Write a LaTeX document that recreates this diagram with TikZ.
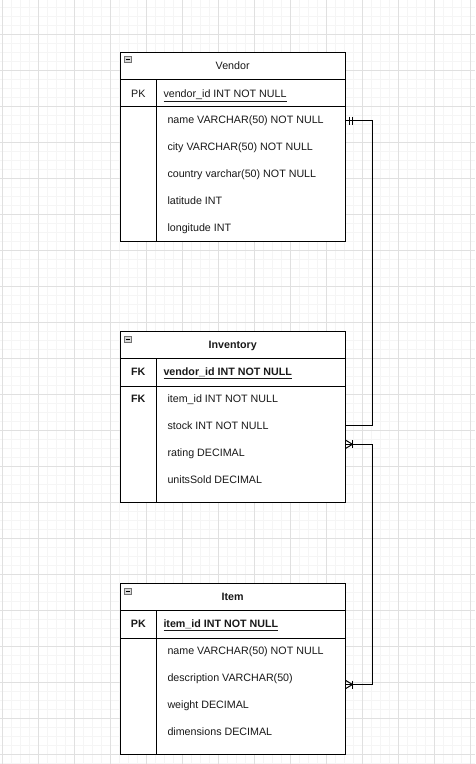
\documentclass[tikz,border=0pt]{standalone}
\usepackage{fontspec}
\setmainfont{Liberation Sans}
\begin{document}
\begin{tikzpicture}[x=1pt,y=-1pt,
  minorgrid/.style={draw=black!4, line width=0.8pt},
  majorgrid/.style={draw=black!12, line width=0.8pt},
  tbl/.style={draw=black, line width=1pt, fill=white, rectangle, inner sep=0pt, outer sep=0pt},
  sep/.style={draw=black, line width=1pt},
  conn/.style={draw=black, line width=1pt},
  txt/.style={font=\fontsize{10.7}{12}\selectfont, inner sep=0pt, anchor=base west, text=black!90, yshift=-3.9pt},
  ctxt/.style={font=\fontsize{10.7}{12}\selectfont, inner sep=0pt, anchor=base, text=black!90, yshift=-3.9pt},
  icon/.style={draw=black!55, fill=black!15, line width=0.7pt}
]
\useasboundingbox (0,0) rectangle (475,764);
\fill[white] (0,0) rectangle (475,764);
\begin{scope}
\clip (0,0) rectangle (475,764);
\foreach \i in {0,...,52} \draw[minorgrid] (2.3+9*\i,0) -- (2.3+9*\i,764);
\foreach \j in {1,...,85} \draw[minorgrid] (0,-1.7+9*\j) -- (475,-1.7+9*\j);
\foreach \i in {0,...,13} \draw[majorgrid] (2.3+36*\i,0) -- (2.3+36*\i,764);
\foreach \j in {1,...,21} \draw[majorgrid] (0,-1.7+36*\j) -- (475,-1.7+36*\j);
\end{scope}

% ---------- Vendor ----------
\node[tbl, minimum width=225.3pt, minimum height=188.7pt] (vendor) at (232.65,146.65) {};
\draw[sep] (120,79.3) -- (345.3,79.3);
\draw[sep] (120,106.7) -- (345.3,106.7);
\draw[sep] (156.3,79.3) -- (156.3,241);
\draw[icon] (124.3,56.5) rectangle (131.7,62.5);
\draw[black, line width=0.8pt] (125.8,59.5) -- (130.2,59.5);
\node[ctxt] (vtitle) at (232.7,66) {Vendor};
\node[ctxt] (vpk) at (138.3,93.3) {PK};
\node[txt] (vid) at (163.3,93.3) {\underline{vendor\_id INT NOT NULL}};
\node[txt] (vname) at (167.3,120) {name VARCHAR(50) NOT NULL};
\node[txt] (vcity) at (167.3,147) {city VARCHAR(50) NOT NULL};
\node[txt] (vcountry) at (167.3,174) {country varchar(50) NOT NULL};
\node[txt] (vlat) at (167.3,201) {latitude INT};
\node[txt] (vlon) at (167.3,228) {longitude INT};

% ---------- Inventory ----------
\node[tbl, minimum width=225.3pt, minimum height=170.6pt] (inventory) at (232.65,417) {};
\draw[sep] (120,358.3) -- (345.3,358.3);
\draw[sep] (120,386) -- (345.3,386);
\draw[sep] (156.3,358.3) -- (156.3,502.3);
\draw[icon] (124.3,336) rectangle (131.7,342);
\draw[black, line width=0.8pt] (125.8,339) -- (130.2,339);
\node[ctxt] (ititle) at (232.7,345) {\bfseries Inventory};
\node[ctxt] (ifk1) at (138.3,372) {\bfseries FK};
\node[txt] (ivid) at (163.3,372) {\bfseries\underline{vendor\_id INT NOT NULL}};
\node[ctxt] (ifk2) at (138.3,399) {\bfseries FK};
\node[txt] (iitem) at (167.3,399) {item\_id INT NOT NULL};
\node[txt] (istock) at (167.3,426) {stock INT NOT NULL};
\node[txt] (irating) at (167.3,453) {rating DECIMAL};
\node[txt] (isold) at (167.3,480) {unitsSold DECIMAL};

% ---------- Item ----------
\node[tbl, minimum width=225.3pt, minimum height=170.3pt] (item) at (232.65,668.85) {};
\draw[sep] (120,610.7) -- (345.3,610.7);
\draw[sep] (120,638) -- (345.3,638);
\draw[sep] (156.3,610.7) -- (156.3,754);
\draw[icon] (124.3,588) rectangle (131.7,594);
\draw[black, line width=0.8pt] (125.8,591) -- (130.2,591);
\node[ctxt] (ttitle) at (232.7,597) {\bfseries Item};
\node[ctxt] (tpk) at (138.3,624) {\bfseries PK};
\node[txt] (tid) at (163.3,624) {\bfseries\underline{item\_id INT NOT NULL}};
\node[txt] (tname) at (167.3,651) {name VARCHAR(50) NOT NULL};
\node[txt] (tdesc) at (167.3,678) {description VARCHAR(50)};
\node[txt] (tweight) at (167.3,705) {weight DECIMAL};
\node[txt] (tdim) at (167.3,732) {dimensions DECIMAL};

% ---------- connectors ----------
\coordinate (v1) at (345.3,120.5);
\coordinate (i1) at (345.3,425.7);
\coordinate (i2) at (345.3,444.3);
\coordinate (t2) at (345.3,684.5);

\draw[conn] (v1) -- (372.5,120.5) |- (i1);
\draw[conn] (349,116.5) -- (349,124.5);
\draw[conn] (352,116.5) -- (352,124.5);

\draw[conn] (i2) -- (372.5,444.3) |- (t2);
% crow's feet (one or many)
\draw[conn] (345.3,440) -- (352.5,444.3) -- (345.3,448.6);
\draw[conn] (352.5,440.3) -- (352.5,448.3);
\draw[conn] (345.3,680.2) -- (352.5,684.5) -- (345.3,688.8);
\draw[conn] (352.5,680.5) -- (352.5,688.5);
\end{tikzpicture}
\end{document}
